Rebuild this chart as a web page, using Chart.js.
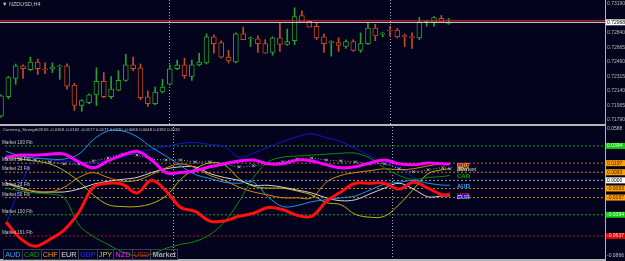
<!DOCTYPE html>
<html>
<head>
<meta charset="utf-8">
<script src="https://cdn.jsdelivr.net/npm/chart.js@4.4.0/dist/chart.umd.min.js"></script>
<style>
html, body { margin: 0; padding: 0; background: #03031d; }
#wrap { position: relative; width: 625px; height: 261px; overflow: hidden; background: #03031d; font-family: "Liberation Sans", Arial, sans-serif; }
#topc { position: absolute; left: 0; top: -3px; }
#botc { position: absolute; left: 0; top: 124px; }
.sep { position: absolute; background: #b4b4b4; }
.txt { position: absolute; color: #c8c8c8; white-space: nowrap; }
#legend { position: absolute; left: 4px; top: 249px; display: flex; }
#legend span { border: 1px solid #3a3a50; margin-left: -1px; font-size: 7.2px; line-height: 9px; height: 9px; padding: 0 1.3px; }
</style>
</head>
<body>
<div id="wrap">
  <canvas id="topc" width="625" height="129"></canvas>
  <canvas id="botc" width="625" height="137"></canvas>
  <div class="sep" style="left:0;top:124px;width:606px;height:2px"></div>
  <div class="sep" style="left:0;top:259px;width:606px;height:2px"></div>
  <div class="sep" style="left:605px;top:0;width:1px;height:261px"></div>
  <div class="txt" style="left:2px;top:1px;font-size:5.5px">&#9660; NZDUSD,H4</div>
  <div class="txt" style="left:3px;top:127px;font-size:4.2px">Currency_Strength28 65 -0.0168 -0.0162 -0.0177 0.0177 0.0120 -0.0066 0.0048 0.0182 0.0132</div>
  <div id="legend"></div>
</div>
<script>
// NZDUSD H4 candles
var candleOpen = [0.71836,0.72070,0.72291,0.72443,0.72396,0.72490,0.72408,0.72408,0.72431,0.72443,
  0.72210,0.71965,0.72000,0.72093,0.72256,0.72070,0.72151,0.72268,0.72455,0.72420,
  0.72070,0.71988,0.72128,0.72221,0.72408,0.72455,0.72315,0.72455,0.72478,0.72793,
  0.72723,0.72548,0.72490,0.72828,0.72770,0.72770,0.72711,0.72606,0.72781,0.72700,
  0.72746,0.73050,0.72980,0.72921,0.72793,0.72723,0.72723,0.72676,0.72735,0.72630,
  0.72711,0.72898,0.72825,0.72875,0.72875,0.72808,0.72796,0.72781,0.72966,0.72968,
  0.73015,0.72956];
var candleHigh = [0.72093,0.72315,0.72466,0.72455,0.72548,0.72525,0.72478,0.72478,0.72455,0.72466,
  0.72233,0.72035,0.72105,0.72420,0.72362,0.72315,0.72385,0.72583,0.72548,0.72466,
  0.72140,0.72186,0.72280,0.72455,0.72513,0.72536,0.72513,0.72595,0.72828,0.72816,
  0.72746,0.72630,0.72840,0.72910,0.72793,0.72805,0.72758,0.72793,0.72956,0.72886,
  0.73143,0.73108,0.72985,0.72956,0.72828,0.72746,0.72781,0.72758,0.72758,0.72840,
  0.72956,0.72945,0.72850,0.72921,0.72898,0.72828,0.72840,0.73026,0.72991,0.73038,
  0.73050,0.73015];
var candleLow = [0.71825,0.72046,0.72221,0.72291,0.72385,0.72338,0.72350,0.72362,0.72280,0.72163,
  0.71906,0.71895,0.71988,0.71965,0.72058,0.72046,0.72140,0.72256,0.72385,0.72035,
  0.71953,0.71976,0.72116,0.72210,0.72396,0.72291,0.72268,0.72443,0.72466,0.72595,
  0.72536,0.72478,0.72478,0.72758,0.72676,0.72606,0.72595,0.72571,0.72618,0.72690,
  0.72700,0.72968,0.72910,0.72758,0.72606,0.72560,0.72618,0.72653,0.72618,0.72606,
  0.72700,0.72746,0.72793,0.72805,0.72781,0.72676,0.72653,0.72758,0.72921,0.72921,
  0.72968,0.72945];
var candleClose = [0.72081,0.72303,0.72443,0.72408,0.72490,0.72408,0.72396,0.72431,0.72443,0.72198,
  0.71965,0.72023,0.72093,0.72256,0.72070,0.72163,0.72268,0.72455,0.72408,0.72058,
  0.71988,0.72128,0.72186,0.72408,0.72455,0.72326,0.72455,0.72490,0.72793,0.72711,
  0.72548,0.72501,0.72828,0.72758,0.72782,0.72711,0.72595,0.72781,0.72700,0.72735,
  0.73038,0.72968,0.72910,0.72781,0.72711,0.72735,0.72688,0.72735,0.72630,0.72711,
  0.72898,0.72805,0.72837,0.72863,0.72793,0.72796,0.72784,0.72968,0.72978,0.73026,
  0.72968,0.72968];
var bidPrice = 0.72968;
var askPrice = 0.72991;
var priceTicks = [0.73190, 0.72968, 0.72840, 0.72665, 0.72490, 0.72315, 0.72140, 0.71965, 0.71790];

// Currency strength lines (every 2nd bar)
var lineIdx = [0,2,4,6,8,10,12,14,16,18,20,22,24,26,28,30,32,34,36,38,40,42,44,46,48,50,52,54,56,58,60,61];
var audVals = [0.0333,0.0278,0.0255,0.0244,0.0244,0.0300,0.0466,0.0566,0.0566,0.0500,0.0377,0.0278,0.0167,0.0067,0.0022,-0.0022,
  -0.0033,-0.0022,-0.0189,-0.0300,-0.0289,-0.0244,-0.0222,-0.0200,-0.0178,-0.0111,-0.0044,-0.0022,0.0000,-0.0033,-0.0055,-0.0055];
var cadVals = [-0.0089,-0.0122,-0.0144,-0.0155,-0.0200,-0.0511,-0.0644,-0.0733,-0.0821,-0.0866,-0.0844,-0.0777,-0.0733,-0.0699,-0.0622,-0.0477,
  -0.0244,0.0033,0.0211,0.0266,0.0278,0.0289,0.0300,0.0311,0.0311,0.0255,0.0144,0.0056,0.0011,0.0033,0.0044,0.0056];
var chfVals = [-0.0022,-0.0100,-0.0122,-0.0133,-0.0078,0.0033,0.0089,0.0033,-0.0011,0.0000,0.0067,0.0144,0.0189,0.0144,0.0056,0.0000,
  -0.0078,-0.0133,-0.0167,-0.0200,-0.0200,-0.0200,-0.0022,0.0056,0.0089,0.0111,0.0133,0.0122,0.0133,0.0167,0.0189,0.0189];
var eurVals = [-0.0033,-0.0078,-0.0133,-0.0133,-0.0133,-0.0100,-0.0044,-0.0011,0.0011,0.0033,0.0089,0.0133,0.0155,0.0155,0.0078,0.0033,
  0.0000,-0.0056,-0.0056,-0.0078,-0.0111,-0.0144,-0.0200,-0.0233,-0.0222,-0.0155,-0.0089,-0.0033,-0.0100,-0.0189,-0.0178,-0.0178];
var gbpVals = [-0.0511,-0.0056,0.0244,0.0233,0.0222,0.0211,0.0200,0.0233,0.0266,0.0322,0.0355,0.0389,0.0422,0.0433,0.0411,0.0389,
  0.0266,0.0311,0.0377,0.0444,0.0500,0.0533,0.0488,0.0444,0.0366,0.0278,0.0200,0.0144,0.0033,-0.0100,-0.0155,-0.0167];
var jpyVals = [0.0278,0.0244,0.0222,0.0189,0.0111,-0.0011,-0.0167,-0.0278,-0.0300,-0.0300,-0.0266,-0.0178,0.0011,0.0133,0.0200,0.0178,
  0.0022,-0.0067,-0.0089,-0.0089,-0.0122,-0.0167,-0.0255,-0.0278,-0.0389,-0.0422,-0.0411,-0.0278,-0.0100,0.0078,0.0122,0.0133];
var nzdVals = [0.0266,0.0289,0.0289,0.0300,0.0300,0.0211,0.0144,0.0222,0.0289,0.0333,0.0233,0.0089,0.0089,0.0111,0.0155,0.0189,
  0.0222,0.0233,0.0189,0.0189,0.0233,0.0222,0.0178,0.0144,0.0155,0.0200,0.0233,0.0189,0.0178,0.0200,0.0189,0.0189];
var usdVals = [-0.0477,-0.0666,-0.0755,-0.0677,-0.0566,-0.0366,-0.0078,-0.0033,-0.0044,-0.0144,0.0000,-0.0122,-0.0311,-0.0355,-0.0466,-0.0466,
  -0.0411,-0.0377,-0.0311,-0.0333,-0.0400,-0.0411,-0.0244,-0.0133,-0.0033,-0.0033,-0.0033,-0.0100,-0.0022,-0.0089,-0.0167,-0.0155];
var marketVals = [0.0255,0.0244,0.0233,0.0211,0.0189,0.0189,0.0222,0.0255,0.0300,0.0289,0.0244,0.0233,0.0233,0.0211,0.0211,0.0189,
  0.0155,0.0167,0.0189,0.0211,0.0244,0.0255,0.0233,0.0222,0.0211,0.0189,0.0189,0.0133,0.0100,0.0122,0.0144,0.0133];

var fibLevels = [0.0394, 0.0197, 0.0093, 0, -0.0093, -0.0197, -0.0394, -0.0637];
var fibNames = ["Market 100 Fib", "Market 50 Fib", "Market 23 Fib", "", "Market 23 Fib", "Market 50 Fib", "Market 100 Fib", "Market 161 Fib"];
var fibColors = ["#1aa01a", "#a86a10", "#c8820e", "#a0a0b8", "#c8820e", "#c8820e", "#1aa01a", "#c01010"];
var indMax = 0.0588, indMin = -0.0866;

var sepIdx = [22.9, 53.0];
var xMin = -0.14, xMax = 82.3;
var bg = "#03031d";
var bullCol = "#27a327", bearCol = "#cc4a1c";

var vSepPlugin = {
  id: "vsep",
  beforeDatasetsDraw: function(chart) {
    var ctx = chart.ctx, xs = chart.scales.x;
    ctx.save();
    ctx.strokeStyle = "#a8a8b8";
    ctx.lineWidth = 1;
    ctx.setLineDash([1, 2]);
    sepIdx.forEach(function(v) {
      var px = Math.round(xs.getPixelForValue(v)) + 0.5;
      ctx.beginPath();
      ctx.moveTo(px, 0);
      ctx.lineTo(px, chart.height);
      ctx.stroke();
    });
    ctx.restore();
  }
};

var candleCols = candleOpen.map(function(o, i) { return candleClose[i] >= o ? bullCol : bearCol; });

new Chart(document.getElementById("topc"), {
  type: "bar",
  data: {
    datasets: [
      {
        data: candleOpen.map(function(o, i) { return {x: i, y: [candleLow[i], candleHigh[i]]}; }),
        backgroundColor: candleCols, borderWidth: 0, barThickness: 1, grouped: false, order: 3
      },
      {
        data: candleOpen.map(function(o, i) { return {x: i, y: [o, candleClose[i]]}; }),
        backgroundColor: bg, borderColor: candleCols, borderWidth: 1, borderSkipped: false,
        barThickness: 5, grouped: false, order: 2
      },
      {
        type: "line", data: [{x: xMin, y: askPrice}, {x: xMax, y: askPrice}],
        borderColor: "#d01818", borderWidth: 1, pointRadius: 0, order: 1
      },
      {
        type: "line", data: [{x: xMin, y: bidPrice}, {x: xMax, y: bidPrice}],
        borderColor: "#e8e8e8", borderWidth: 1, pointRadius: 0, order: 0
      }
    ]
  },
  options: {
    animation: false, responsive: false, maintainAspectRatio: false,
    layout: {padding: 0},
    plugins: {legend: {display: false}, tooltip: {enabled: false}},
    scales: {
      x: {type: "linear", min: xMin, max: xMax, offset: false, display: false},
      y: {
        position: "right", min: 0.71778, max: 0.73213,
        grid: {display: false, drawTicks: false}, border: {display: false},
        afterBuildTicks: function(s) { s.ticks = priceTicks.map(function(v) { return {value: v}; }); },
        afterFit: function(s) { s.width = 20; },
        ticks: {
          padding: 2,
          font: {size: 5, family: "Liberation Sans"},
          color: function(c) { return c.tick && c.tick.value === bidPrice ? "#000000" : "#b8b8b8"; },
          showLabelBackdrop: function(c) { return c.tick && c.tick.value === bidPrice; },
          backdropColor: "#ffffff",
          backdropPadding: {top: 0, bottom: 0, left: 1, right: 3},
          callback: function(v) { return v.toFixed(5); }
        }
      }
    }
  },
  plugins: [vSepPlugin]
});

var series = [
  {name: "AUD", vals: audVals, color: "#1e96e6", width: 1},
  {name: "CAD", vals: cadVals, color: "#0c8c0c", width: 1},
  {name: "CHF", vals: chfVals, color: "#d28a10", width: 1},
  {name: "EUR", vals: eurVals, color: "#d4d4d4", width: 1},
  {name: "GBP", vals: gbpVals, color: "#1414d8", width: 1},
  {name: "JPY", vals: jpyVals, color: "#b8b800", width: 1},
  {name: "NZD", vals: nzdVals, color: "#ff00ff", width: 3},
  {name: "USD", vals: usdVals, color: "#ff1010", width: 3},
  {name: "Market", vals: marketVals, color: "#a8a8a8", width: 1}
];
var labelCols = {AUD: "#3aa8ff", CAD: "#10a010", CHF: "#ff9a10", EUR: "#e0e0e0", GBP: "#2a2aff", JPY: "#d0d000", NZD: "#ff20ff", USD: "#e81818", Market: "#a8a8a8"};
var endOrder = ["NZD", "USD", "EUR", "Market", "JPY", "CHF", "CAD", "AUD", "GBP"];

var datasets = [];
fibLevels.forEach(function(v, i) {
  datasets.push({
    data: [{x: xMin, y: v}, {x: xMax, y: v}], borderColor: fibColors[i], borderWidth: 1,
    borderDash: [2, 2], pointRadius: 0, order: 20
  });
});
series.forEach(function(s) {
  var isMkt = s.name === "Market";
  datasets.push({
    label: s.name,
    data: lineIdx.map(function(ix, j) { return {x: ix, y: s.vals[j]}; }),
    borderColor: s.color, borderWidth: s.width, tension: 0.35,
    borderDash: isMkt ? [1, 2] : [],
    pointRadius: isMkt ? 2 : 0, pointStyle: "crossRot", pointBorderColor: s.color, pointBorderWidth: 1,
    order: s.name === "USD" ? 1 : (s.name === "NZD" ? 2 : (isMkt ? 3 : 5))
  });
});

var fibTextPlugin = {
  id: "fibtext",
  afterDatasetsDraw: function(chart) {
    var ctx = chart.ctx, ys = chart.scales.y;
    ctx.save();
    ctx.font = "4.6px 'Liberation Sans'";
    ctx.fillStyle = "#c8c8c8";
    ctx.textBaseline = "alphabetic";
    fibLevels.forEach(function(v, i) {
      if (fibNames[i]) ctx.fillText(fibNames[i], 2, ys.getPixelForValue(v) - 2);
    });
    ctx.font = "bold 6px 'Liberation Sans'";
    ctx.textBaseline = "middle";
    endOrder.forEach(function(name) {
      var di = chart.data.datasets.findIndex(function(d) { return d.label === name; });
      var pts = chart.getDatasetMeta(di).data;
      var p = pts[pts.length - 1];
      ctx.fillStyle = labelCols[name];
      ctx.fillText(name, p.x + 7, p.y + 1);
    });
    ctx.restore();
  }
};

var tickStyle = function(v) {
  if (v === 0.0394 || v === -0.0394) return {bg: "#14c814", fg: "#e8ffe8"};
  if (v === -0.0637) return {bg: "#e00000", fg: "#ffe0e0"};
  if (v === 0) return {bg: "#ffffff", fg: "#000000"};
  if (v === indMax || v === indMin) return null;
  return {bg: "#ffa000", fg: "#3a2000"};
};

new Chart(document.getElementById("botc"), {
  type: "line",
  data: {datasets: datasets},
  options: {
    animation: false, responsive: false, maintainAspectRatio: false,
    layout: {padding: 0},
    plugins: {legend: {display: false}, tooltip: {enabled: false}},
    scales: {
      x: {type: "linear", min: xMin, max: xMax, offset: false, display: false},
      y: {
        position: "right", min: indMin, max: indMax,
        grid: {display: false, drawTicks: false}, border: {display: false},
        afterBuildTicks: function(s) { s.ticks = [indMax].concat(fibLevels, [indMin]).map(function(v) { return {value: v}; }); },
        afterFit: function(s) { s.width = 20; },
        ticks: {
          padding: 2,
          font: {size: 5, family: "Liberation Sans"},
          color: function(c) { var st = c.tick ? tickStyle(c.tick.value) : null; return st ? st.fg : "#c0c0c0"; },
          showLabelBackdrop: function(c) { return !!(c.tick && tickStyle(c.tick.value)); },
          backdropColor: function(c) { var st = c.tick ? tickStyle(c.tick.value) : null; return st ? st.bg : "rgba(0,0,0,0)"; },
          backdropPadding: {top: 0, bottom: 0, left: 1, right: 4},
          callback: function(v) { return v.toFixed(4); }
        }
      }
    }
  },
  plugins: [vSepPlugin, fibTextPlugin]
});

var legend = document.getElementById("legend");
series.forEach(function(s) {
  var sp = document.createElement("span");
  sp.textContent = s.name;
  sp.style.color = labelCols[s.name];
  if (s.name === "Market") sp.style.fontWeight = "bold";
  legend.appendChild(sp);
});
</script>
</body>
</html>
